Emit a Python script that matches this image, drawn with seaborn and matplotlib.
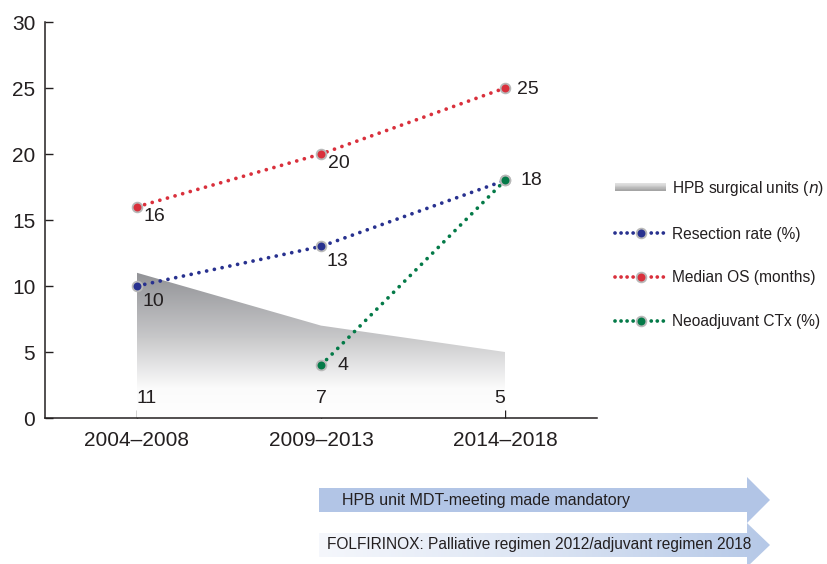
import numpy as np
import pandas as pd
import matplotlib
matplotlib.use('Agg')
import matplotlib.pyplot as plt
import seaborn as sns
from matplotlib.patches import Polygon, Rectangle
from matplotlib.legend_handler import HandlerBase
from matplotlib.lines import Line2D
from matplotlib.colors import LinearSegmentedColormap

periods = ['2004\u20132008', '2009\u20132013', '2014\u20132018']
hpb_units = [11, 7, 5]
resection = [10, 13, 18]
median_os = [16, 20, 25]
neoadj_periods = ['2009\u20132013', '2014\u20132018']
neoadj = [4, 18]

sns.set_style('ticks')
plt.rcParams['font.family'] = ['Liberation Sans', 'DejaVu Sans']

red = '#d9303c'
blue = '#28318f'
green = '#047a48'
halo = '#b8b8b8'
txt = '#231f20'

fig = plt.figure(figsize=(8.28, 5.64), dpi=100)
ax = fig.add_axes([45/828, 1-418/564, (597-45)/828, (418-22)/564])

x = np.arange(len(periods))

# gradient area for surgical units
poly = ax.fill_between(x, 0, hpb_units, facecolor='none', edgecolor='none')
grad_cmap = LinearSegmentedColormap.from_list(
    'g', [(0, '#ffffff'), (0.2, '#fbfbfb'), (0.55, '#c6c6c8'), (1, '#8e8f93')])
grad = np.linspace(0, 1, 256).reshape(-1, 1)
img = ax.imshow(grad, cmap=grad_cmap, origin='lower', aspect='auto',
                extent=[0, 2, 0, 11.3], zorder=1)
img.set_clip_path(poly.get_paths()[0], transform=ax.transData)

dots = (0, (0.01, 2.1))
series = [(periods, resection, blue), (periods, median_os, red), (neoadj_periods, neoadj, green)]
for cats, vals, col in series:
    df = pd.DataFrame({'x': [periods.index(c) for c in cats], 'y': vals})
    sns.lineplot(data=df, x='x', y='y', ax=ax, color=col, lw=2.7, linestyle=dots,
                 dash_capstyle='round', marker='o', markersize=7,
                 markeredgecolor=halo, markeredgewidth=1.3, zorder=3)

# value labels
fs_val = 14
for i, v in enumerate(median_os):
    if i == 2:
        ax.annotate(str(v), (i, v), xytext=(9, -1), textcoords='offset points',
                    ha='left', va='center', fontsize=fs_val, color=txt)
    else:
        ax.annotate(str(v), (i, v), xytext=(5, -7), textcoords='offset points',
                    ha='left', va='center', fontsize=fs_val, color=txt)
for i, v in enumerate(resection):
    if i == 2:
        ax.annotate(str(v), (i, v), xytext=(11, 0), textcoords='offset points',
                    ha='left', va='center', fontsize=fs_val, color=txt)
    else:
        ax.annotate(str(v), (i, v), xytext=(4, -11), textcoords='offset points',
                    ha='left', va='center', fontsize=fs_val, color=txt)
ax.annotate(str(neoadj[0]), (1, neoadj[0]), xytext=(12, 0), textcoords='offset points',
            ha='left', va='center', fontsize=fs_val, color=txt)
for i, v in enumerate(hpb_units):
    ha = ['left', 'center', 'right'][i]
    ax.text(i, 1.5, str(v), ha=ha, va='center', fontsize=fs_val, color=txt)

ax.set_xlim(-0.5, 2.5)
ax.set_ylim(0, 30)
ax.set_xticks(x)
ax.set_xticklabels(periods)
ax.set_yticks(range(0, 31, 5))
ax.set_xlabel('')
ax.set_ylabel('')
ax.tick_params(direction='in', length=6, width=1, labelsize=15, colors=txt)
ax.tick_params(axis='x', pad=9)
ax.tick_params(axis='y', pad=7)
for s in ['left', 'bottom']:
    ax.spines[s].set_linewidth(1.1)
    ax.spines[s].set_color(txt)
sns.despine(ax=ax)


class GradientHandler(HandlerBase):
    def create_artists(self, legend, orig_handle, xdescent, ydescent, width, height, fontsize, trans):
        arts = []
        n = 12
        shades = np.linspace(0.62, 0.88, n)
        h = height * 0.7
        y0 = -ydescent + (height - h) / 2
        for k in range(n):
            g = shades[k]
            r = Rectangle((-xdescent, y0 + h * k / n), width, h / n + 0.2,
                          facecolor=(g, g, g), edgecolor='none', transform=trans)
            arts.append(r)
        return arts


area_handle = Rectangle((0, 0), 1, 1)
handles = [area_handle]
for col in [blue, red, green]:
    handles.append(Line2D([], [], color=col, lw=2.7, linestyle=(0, (0.01, 1.6)),
                          dash_capstyle='round', marker='o', markersize=7,
                          markeredgecolor=halo, markeredgewidth=1.3))
labels = ['HPB surgical units ($n$)', 'Resection rate (%)', 'Median OS (months)',
          'Neoadjuvant CTx (%)']
leg = fig.legend(handles, labels, loc='upper left', bbox_to_anchor=(604/828, 1-168/564),
                 frameon=False, fontsize=11.2, handlelength=3.3, handletextpad=0.4,
                 labelspacing=1.85, numpoints=1, borderaxespad=0.3,
                 handler_map={Rectangle: GradientHandler()})
for t in leg.get_texts():
    t.set_color(txt)

# timeline arrows along the bottom
ov = fig.add_axes([0, 0, 1, 1], zorder=-1)
ov.set_xlim(0, 828)
ov.set_ylim(564, 0)
ov.axis('off')

arr1 = Polygon([(319, 488), (747, 488), (747, 477), (770, 500), (747, 523),
                (747, 512), (319, 512)], closed=True, facecolor='#b2c5e6', edgecolor='none')
ov.add_patch(arr1)
ov.text(342, 500, 'HPB unit MDT-meeting made mandatory', ha='left', va='center',
        fontsize=11.5, color=txt)

arr2_pts = [(319, 533), (747, 533), (747, 523), (770, 545), (747, 567),
            (747, 557), (319, 557)]
arr2 = Polygon(arr2_pts, closed=True, facecolor='none', edgecolor='none')
ov.add_patch(arr2)
blue_cmap = LinearSegmentedColormap.from_list('b', ['#f5f7fc', '#dbe4f3', '#b5c8e7'])
hgrad = np.linspace(0, 1, 256).reshape(1, -1)
im2 = ov.imshow(hgrad, cmap=blue_cmap, aspect='auto', extent=[319, 770, 567, 523], zorder=0)
im2.set_clip_path(arr2)
ov.text(327, 545, 'FOLFIRINOX: Palliative regimen 2012/adjuvant regimen 2018', ha='left',
        va='center', fontsize=11.2, color=txt)

fig.savefig('out.png', dpi=100)
